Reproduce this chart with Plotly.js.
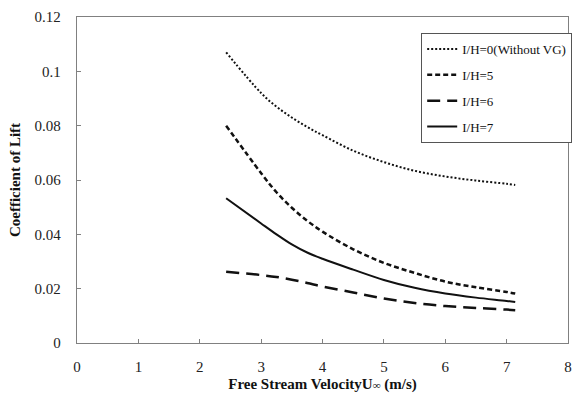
<!DOCTYPE html>
<html>
<head>
<meta charset="utf-8">
<script src="https://cdn.plot.ly/plotly-3.0.1.min.js"></script>
<style>html,body{margin:0;padding:0;background:#fff;}#chart{width:573px;height:393px;}</style>
</head>
<body>
<div id="chart"></div>
<script>
// Free stream velocity (m/s)
const velocity = [2.43, 3.0, 3.25, 3.5, 3.75, 4.0, 4.5, 5.0, 5.5, 6.0, 6.5, 7.0, 7.14];
// Coefficient of lift for each configuration
const clWithoutVG = [0.107, 0.092, 0.087, 0.083, 0.0795, 0.0765, 0.0708, 0.0666, 0.0634, 0.0613, 0.0598, 0.0586, 0.0582];
const clIH5 = [0.080, 0.0625, 0.0555, 0.0498, 0.0450, 0.041, 0.0345, 0.0295, 0.0258, 0.0226, 0.0205, 0.0188, 0.0182];
const clIH6 = [0.0262, 0.0250, 0.0243, 0.0233, 0.0221, 0.0208, 0.0186, 0.0164, 0.0147, 0.0136, 0.0129, 0.0123, 0.0121];
const clIH7 = [0.0533, 0.0440, 0.0400, 0.0363, 0.0333, 0.0310, 0.0270, 0.0232, 0.0203, 0.0182, 0.0167, 0.0155, 0.0151];
const seriesNames = ["I/H=0(Without VG)", "I/H=5", "I/H=6", "I/H=7"];
const xTicks = [0, 1, 2, 3, 4, 5, 6, 7, 8];
const yTicks = [0, 0.02, 0.04, 0.06, 0.08, 0.1, 0.12];
const yTickText = ["0", "0.02", "0.04", "0.06", "0.08", "0.1", "0.12"];

const serif = "Liberation Serif";
const styles = [
  {width: 2, dash: "2px,2px"},
  {width: 2.5, dash: "5px,3px"},
  {width: 2.5, dash: "13px,7px"},
  {width: 2, dash: "solid"}
];
const ys = [clWithoutVG, clIH5, clIH6, clIH7];
const traces = ys.map((y, i) => ({
  x: velocity, y: y, type: "scatter", mode: "lines",
  name: seriesNames[i], legendgroup: "g" + i,
  line: {color: "#111", width: styles[i].width, dash: styles[i].dash, shape: "spline", smoothing: 1}
}));

const axisCommon = {
  showline: true, linecolor: "#808080", linewidth: 1.3, mirror: true,
  ticks: "inside", ticklen: 4, tickcolor: "#808080",
  showgrid: false, zeroline: false,
  tickfont: {family: serif, size: 15, color: "#222"}
};

const layout = {
  width: 573, height: 393,
  margin: {l: 77, r: 1, t: 17, b: 50},
  paper_bgcolor: "#fff", plot_bgcolor: "#fff",
  font: {family: serif},
  showlegend: true,
  legend: {
    x: 0.701, y: 0.951, xanchor: "left", yanchor: "top",
    bordercolor: "#555", borderwidth: 1, bgcolor: "#fff",
    font: {family: serif, size: 13, color: "#111"},
    tracegroupgap: 6
  },
  xaxis: Object.assign({}, axisCommon, {
    range: [0, 8], tickvals: xTicks, ticktext: xTicks.map(String),
    ticklabelstandoff: 10,
    title: {text: "Free Stream VelocityU<span style=\"font-size:11px\">∞</span> (m/s)", font: {family: serif, size: 15, weight: "bold", color: "#111"}, standoff: 6}
  }),
  yaxis: Object.assign({}, axisCommon, {
    range: [0, 0.12], tickvals: yTicks, ticktext: yTickText,
    ticklabelstandoff: 12,
    title: {text: "Coefficient of Lift", font: {family: serif, size: 15, weight: "bold", color: "#111"}, standoff: 10}
  })
};

Plotly.newPlot("chart", traces, layout, {displayModeBar: false, staticPlot: true});
</script>
</body>
</html>
